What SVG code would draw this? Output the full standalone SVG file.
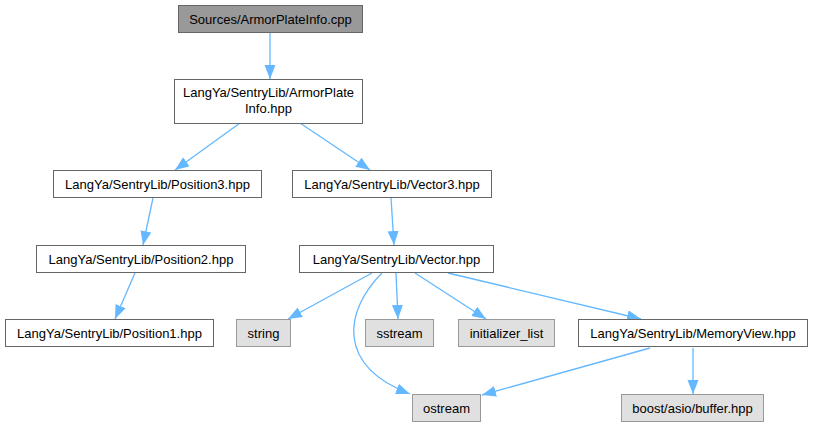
<svg xmlns="http://www.w3.org/2000/svg" width="813" height="427" viewBox="0 0 813 427">
<style>
.n rect{fill:#ffffff;stroke:#666666;stroke-width:1}
.n.root rect{fill:#999999}
.n.sys rect{fill:#e0e0e0;stroke:#999999}
text{font-family:"Liberation Sans",Arial,sans-serif;font-size:13px;fill:#000000;text-anchor:middle}
.e path{fill:none;stroke:#63b8ff;stroke-width:1.3}
</style>
<defs>
<marker id="a" markerUnits="userSpaceOnUse" markerWidth="15" markerHeight="12" refX="14" refY="5.5" orient="auto">
<polygon points="0,0 14,5.5 0,11" fill="#63b8ff"/>
</marker>
</defs>
<rect width="813" height="427" fill="#ffffff"/>
<g id="edges" class="e">
<path d="M270,33 L270,79" marker-end="url(#a)"/>
<path d="M240,123 L175,170" marker-end="url(#a)"/>
<path d="M300,123 L370,170" marker-end="url(#a)"/>
<path d="M153,198 L143,245" marker-end="url(#a)"/>
<path d="M135,273 L115,319" marker-end="url(#a)"/>
<path d="M391,198 L394,245" marker-end="url(#a)"/>
<path d="M372,273 L288,319" marker-end="url(#a)"/>
<path d="M382,273 C345,310 335,365 410,394" marker-end="url(#a)"/>
<path d="M396,273 L398,319" marker-end="url(#a)"/>
<path d="M415,273 L486,319" marker-end="url(#a)"/>
<path d="M448,273 L641,319" marker-end="url(#a)"/>
<path d="M650,348 L482,395" marker-end="url(#a)"/>
<path d="M693,348 L693,394" marker-end="url(#a)"/>
</g>
<g id="node_cpp" class="n root"><rect x="178.5" y="5.5" width="184" height="27"/><text x="270.5" y="23.5">Sources/ArmorPlateInfo.cpp</text></g>
<g id="node_armor" class="n"><rect x="174.5" y="79.5" width="188" height="44"/><text x="268.5" y="97">LangYa/SentryLib/ArmorPlate</text><text x="268.5" y="112.5">Info.hpp</text></g>
<g id="node_pos3" class="n"><rect x="53.5" y="170.5" width="208" height="27"/><text x="157.5" y="188.5">LangYa/SentryLib/Position3.hpp</text></g>
<g id="node_pos2" class="n"><rect x="36.5" y="245.5" width="209" height="27"/><text x="141" y="263.5">LangYa/SentryLib/Position2.hpp</text></g>
<g id="node_pos1" class="n"><rect x="5.5" y="319.5" width="208" height="27"/><text x="109.5" y="337.5">LangYa/SentryLib/Position1.hpp</text></g>
<g id="node_vec3" class="n"><rect x="292.5" y="170.5" width="199" height="27"/><text x="392" y="188.5">LangYa/SentryLib/Vector3.hpp</text></g>
<g id="node_vec" class="n"><rect x="299.5" y="245.5" width="194" height="27"/><text x="396.5" y="263.5">LangYa/SentryLib/Vector.hpp</text></g>
<g id="node_string" class="n sys"><rect x="236.5" y="319.5" width="54" height="27"/><text x="263.5" y="337.5">string</text></g>
<g id="node_sstream" class="n sys"><rect x="365.5" y="319.5" width="68" height="27"/><text x="399.5" y="337.5">sstream</text></g>
<g id="node_init" class="n sys"><rect x="458.5" y="319.5" width="96" height="27"/><text x="506.5" y="337.5">initializer_list</text></g>
<g id="node_mem" class="n"><rect x="578.5" y="319.5" width="229" height="27"/><text x="693" y="337.5">LangYa/SentryLib/MemoryView.hpp</text></g>
<g id="node_ostream" class="n sys"><rect x="412.5" y="394.5" width="68" height="27"/><text x="446.5" y="412.5">ostream</text></g>
<g id="node_boost" class="n sys"><rect x="621.5" y="394.5" width="142" height="27"/><text x="692.5" y="412.5">boost/asio/buffer.hpp</text></g>
</svg>
